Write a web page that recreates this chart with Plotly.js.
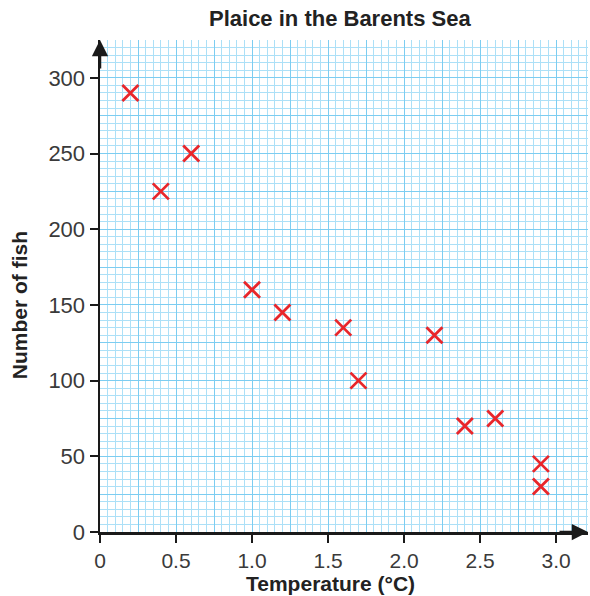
<!DOCTYPE html>
<html><head><meta charset="utf-8">
<script src="https://cdn.plot.ly/plotly-3.0.1.min.js"></script>
<style>html,body{margin:0;padding:0;background:#fff}</style>
</head><body><div id="chart" style="width:590px;height:596px"></div>
<script>
const temperature = [0.2, 0.4, 0.6, 1.0, 1.2, 1.6, 1.7, 2.2, 2.4, 2.6, 2.9, 2.9];
const fishCount   = [290, 225, 250, 160, 145, 135, 100, 130, 70, 75, 45, 30];
const xTickVals = [0, 0.5, 1.0, 1.5, 2.0, 2.5, 3.0];
const xTickText = ["0", "0.5", "1.0", "1.5", "2.0", "2.5", "3.0"];
const yTickVals = [0, 50, 100, 150, 200, 250, 300];
const yTickText = ["0", "50", "100", "150", "200", "250", "300"];

const XR = [0, 3.21], YR = [0, 325];
const FF = "Liberation Sans, Arial, sans-serif";
const gridTrace = {x: [], y: [], type: "scatter", mode: "markers", xaxis: "x", yaxis: "y", hoverinfo: "skip"};
const trace = {
  x: temperature, y: fishCount, type: "scatter", mode: "markers",
  xaxis: "x2", yaxis: "y2",
  marker: {symbol: "x-thin", size: 16, line: {color: "#e8262b", width: 2.8}, color: "#e8262b"},
  cliponaxis: false, hoverinfo: "skip"
};
const layout = {
  width: 590, height: 596,
  margin: {l: 100, r: 2, t: 40, b: 64},
  paper_bgcolor: "#fff", plot_bgcolor: "#fff",
  showlegend: false,
  xaxis: {range: XR, dtick: 0.25, tick0: 0, showgrid: true, gridcolor: "#7ccdf1", gridwidth: 1,
          minor: {dtick: 0.05, showgrid: true, gridcolor: "#ace0f7", gridwidth: 1},
          showticklabels: false, ticks: "", zeroline: false, showline: false, fixedrange: true},
  yaxis: {range: YR, dtick: 25, tick0: 0, showgrid: true, gridcolor: "#7ccdf1", gridwidth: 1,
          minor: {dtick: 5, showgrid: true, gridcolor: "#ace0f7", gridwidth: 1},
          showticklabels: false, ticks: "", zeroline: false, showline: false, fixedrange: true},
  xaxis2: {overlaying: "x", anchor: "y2", side: "bottom", range: XR, showgrid: false, zeroline: false,
           tickmode: "array", tickvals: xTickVals, ticktext: xTickText,
           ticks: "outside", ticklen: 8, tickwidth: 2, tickcolor: "#1a1a1a",
           showline: true, linecolor: "#1a1a1a", linewidth: 2.5,
           tickfont: {family: FF, size: 21, color: "#3a3a3a"}},
  yaxis2: {overlaying: "y", anchor: "x2", side: "left", range: YR, showgrid: false, zeroline: false,
           tickmode: "array", tickvals: yTickVals, ticktext: yTickText,
           ticks: "outside", ticklen: 8, tickwidth: 2, tickcolor: "#1a1a1a",
           showline: true, linecolor: "#1a1a1a", linewidth: 2.5,
           tickfont: {family: FF, size: 22, color: "#3a3a3a"}},
  annotations: [
    {xref: "paper", yref: "paper", x: 0.492, y: 1.0447, xanchor: "center", yanchor: "middle", showarrow: false,
     text: "<b>Plaice in the Barents Sea</b>", font: {family: FF, size: 22, color: "#222"}},
    {xref: "paper", yref: "paper", x: 0.473, y: -0.104, xanchor: "center", yanchor: "middle", showarrow: false,
     text: "<b>Temperature (°C)</b>", font: {family: FF, size: 21, color: "#222"}},
    {xref: "paper", yref: "paper", x: -0.166, y: 0.461, xanchor: "center", yanchor: "middle", showarrow: false,
     textangle: -90, text: "<b>Number of fish</b>", font: {family: FF, size: 21, color: "#222"}},
    {xref: "x2", yref: "y2", x: 0, y: YR[1], ax: 0, ay: 30, text: "",
     showarrow: true, arrowhead: 2, arrowsize: 1.3, arrowwidth: 2.5, arrowcolor: "#1a1a1a"},
    {xref: "x2", yref: "y2", x: XR[1], y: 0, ax: -30, ay: 0, text: "",
     showarrow: true, arrowhead: 2, arrowsize: 1.3, arrowwidth: 2.5, arrowcolor: "#1a1a1a"}
  ]
};
Plotly.newPlot("chart", [gridTrace, trace], layout, {staticPlot: true, displayModeBar: false});
</script></body></html>
